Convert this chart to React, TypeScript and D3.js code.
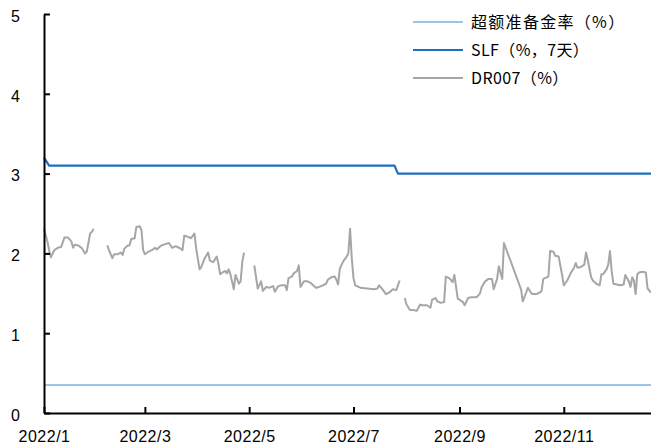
import { useEffect, useRef } from 'react';
import * as d3 from 'd3';

// 数据
const xTickLabels = ['2022/1', '2022/3', '2022/5', '2022/7', '2022/9', '2022/11'];
const yTickValues = [0, 1, 2, 3, 4, 5];

const seriesNames = ['超额准备金率（%）', 'SLF（%，7天）', 'DR007（%）'];
const seriesColors = ['#9DC3E6', '#1F6FBF', '#A6A6A6'];

const reserveDates = ['1/1', '12/22'];
const reserveValues = [0.35, 0.35];

const slfDates = ['1/1', '1/4', '7/25', '7/27', '12/22'];
const slfValues = [3.2, 3.1, 3.1, 3.0, 3.0];

const dr007Dates = [
  '1/1', '1/3', '1/4', '1/5', '1/7', '1/9', '1/11', '1/13', '1/15', '1/17', '1/18', '1/19', '1/21', '1/23', '1/25', '1/26', '1/28', '1/29', '1/30',
  '2/1',
  '2/7', '2/8', '2/10', '2/11', '2/13', '2/15', '2/16', '2/17', '2/19', '2/20', '2/21', '2/23', '2/24', '2/26', '2/27', '2/28',
  '3/1', '3/3', '3/5', '3/7', '3/8', '3/10', '3/12', '3/15', '3/17', '3/19', '3/20', '3/22', '3/23', '3/24', '3/26', '3/28', '3/30', '3/31',
  '4/2', '4/3', '4/5', '4/7', '4/8', '4/10', '4/12', '4/13', '4/14', '4/16', '4/17', '4/18', '4/19', '4/20', '4/22', '4/23', '4/25', '4/26', '4/27', '4/28',
  '4/30',
  '5/4', '5/6', '5/8', '5/9', '5/11', '5/13', '5/15', '5/16', '5/18', '5/20', '5/22', '5/23', '5/24', '5/26', '5/27', '5/29', '5/30', '5/31',
  '6/2', '6/4', '6/6', '6/9', '6/11', '6/13', '6/15', '6/16', '6/18', '6/20', '6/21', '6/22', '6/23', '6/25', '6/27', '6/28', '6/29', '6/30',
  '7/1', '7/2', '7/5', '7/9', '7/13', '7/15', '7/16', '7/18', '7/20', '7/22', '7/24', '7/26', '7/27', '7/28',
  '7/29',
  '7/31', '8/1', '8/3', '8/5', '8/7', '8/9', '8/10', '8/13', '8/15', '8/16', '8/18', '8/19', '8/21', '8/23', '8/24', '8/26', '8/28', '8/29', '8/31',
  '9/1', '9/3', '9/4', '9/6', '9/8', '9/11', '9/13', '9/14', '9/16', '9/18', '9/20', '9/21', '9/23', '9/24', '9/26', '9/27',
  '10/7', '10/8', '10/10', '10/11', '10/13', '10/14', '10/16', '10/18', '10/19', '10/20', '10/22', '10/23', '10/24', '10/26', '10/27', '10/29', '10/31',
  '11/1', '11/3', '11/5', '11/7', '11/8', '11/9', '11/11', '11/13', '11/14', '11/15', '11/17', '11/18', '11/20', '11/22', '11/23', '11/24', '11/26', '11/27', '11/28', '11/29', '11/30',
  '12/2', '12/4', '12/6', '12/7', '12/9', '12/10', '12/11', '12/12', '12/13', '12/14', '12/15', '12/17', '12/19', '12/20', '12/22',
];
const dr007Values: (number | null)[] = [
  2.31, 2.15, 2.04, 1.95, 2.04, 2.07, 2.08, 2.2, 2.2, 2.15, 2.07, 2.11, 2.1, 2.07, 2.0, 2.02, 2.25, 2.27, 2.31,
  null,
  2.1, 2.04, 1.94, 1.99, 1.99, 2.01, 1.98, 2.06, 2.1, 2.1, 2.18, 2.19, 2.33, 2.34, 2.29, 2.04,
  1.99, 2.02, 2.04, 2.07, 2.05, 2.09, 2.11, 2.13, 2.07, 2.09, 2.08, 2.06, 2.04, 2.22, 2.21, 2.19, 2.25, 2.06,
  1.8, 1.83, 1.94, 2.01, 1.91, 1.89, 1.96, 1.87, 1.74, 1.77, 1.78, 1.75, 1.8, 1.74, 1.55, 1.73, 1.62, 1.65, 1.9, 2.01,
  null,
  1.85, 1.56, 1.65, 1.53, 1.58, 1.57, 1.59, 1.52, 1.59, 1.6, 1.6, 1.54, 1.69, 1.71, 1.75, 1.78, 1.85, 1.58,
  1.65, 1.65, 1.63, 1.57, 1.58, 1.6, 1.62, 1.67, 1.7, 1.71, 1.67, 1.61, 1.81, 1.9, 1.96, 2.0, 2.31, 1.94,
  1.69, 1.6, 1.57, 1.56, 1.55, 1.56, 1.6, 1.55, 1.49, 1.51, 1.55, 1.54, 1.6, 1.66,
  null,
  1.44, 1.36, 1.29, 1.29, 1.28, 1.36, 1.35, 1.35, 1.32, 1.42, 1.44, 1.4, 1.38, 1.39, 1.71, 1.69, 1.64, 1.73, 1.43,
  1.42, 1.39, 1.35, 1.44, 1.45, 1.45, 1.5, 1.58, 1.65, 1.68, 1.68, 1.55, 1.68, 1.84, 1.68, 2.13,
  1.55, 1.4, 1.51, 1.57, 1.5, 1.49, 1.49, 1.51, 1.53, 1.68, 1.7, 1.71, 2.03, 2.02, 1.97, 1.96, 1.73,
  1.6, 1.66, 1.75, 1.82, 1.88, 1.82, 1.83, 1.86, 2.01, 1.92, 1.7, 1.66, 1.62, 1.6, 1.74, 1.74, 1.8, 1.86, 2.03, 1.78, 1.62,
  1.61, 1.6, 1.61, 1.73, 1.65, 1.58, 1.7, 1.66, 1.49, 1.74, 1.76, 1.77, 1.76, 1.56, 1.51,
];

const parseDay = d3.timeParse('%Y/%m/%d');
const toDate = (s: string) => parseDay('2022/' + s)!;

type Pt = { date: Date; value: number | null };
const zip = (ds: string[], vs: (number | null)[]): Pt[] =>
  ds.map((d, i) => ({ date: toDate(d), value: vs[i] }));

const App = () => {
  const svgRef = useRef<SVGSVGElement>(null);

  useEffect(() => {
    document.body.style.margin = '0';
    const svg = d3.select(svgRef.current);
    svg.selectAll('*').remove();

    const width = 651;
    const height = 448;
    const margin = { top: 14, right: 0, bottom: 35, left: 44 };
    const axisFont = '"Liberation Sans", Arial, sans-serif';

    const x = d3
      .scaleTime()
      .domain([toDate('1/1'), toDate('12/22')])
      .range([margin.left, width - margin.right]);

    const y = d3
      .scaleLinear()
      .domain([0, 5])
      .range([height - margin.bottom, margin.top]);

    const line = d3
      .line<Pt>()
      .defined((d) => d.value !== null)
      .x((d) => x(d.date))
      .y((d) => y(d.value as number));

    // 三条线
    const series = [
      zip(reserveDates, reserveValues),
      zip(slfDates, slfValues),
      zip(dr007Dates, dr007Values),
    ];
    const widths = [2, 2.2, 2];
    series.forEach((data, i) => {
      svg
        .append('path')
        .datum(data)
        .attr('fill', 'none')
        .attr('stroke', seriesColors[i])
        .attr('stroke-width', widths[i])
        .attr('stroke-linejoin', 'round')
        .attr('d', line);
    });

    // Y 轴
    const yAxis = d3
      .axisLeft(y)
      .tickValues(yTickValues)
      .tickSize(-6)
      .tickSizeOuter(0)
      .tickPadding(24)
      .tickFormat(d3.format('d'));
    const gy = svg
      .append('g')
      .attr('transform', `translate(${margin.left},0)`)
      .call(yAxis);
    gy.select('.domain').attr('stroke', '#000').attr('stroke-width', 2);
    gy.selectAll('.tick line').attr('stroke', '#000').attr('stroke-width', 2);
    gy.selectAll('.tick text')
      .attr('fill', '#000')
      .style('font-size', '16px')
      .style('font-family', axisFont)
      .attr('dy', '0.45em');

    // X 轴
    const xAxis = d3
      .axisBottom(x)
      .tickValues(xTickLabels.map((s) => toDate(s.replace('2022/', '') + '/1')))
      .tickSize(-6)
      .tickSizeOuter(0)
      .tickPadding(18)
      .tickFormat((_, i) => xTickLabels[i]);
    const gx = svg
      .append('g')
      .attr('transform', `translate(0,${height - margin.bottom})`)
      .call(xAxis);
    gx.select('.domain').attr('stroke', '#000').attr('stroke-width', 2);
    gx.selectAll('.tick line').attr('stroke', '#000').attr('stroke-width', 2);
    gx.selectAll('.tick text')
      .attr('fill', '#000')
      .style('font-size', '16px')
      .style('font-family', axisFont)
      .style('letter-spacing', '0.5px');

    // 图例
    const legend = svg.append('g').attr('transform', 'translate(413,22)');
    seriesNames.forEach((name, i) => {
      const g = legend.append('g').attr('transform', `translate(0,${i * 28})`);
      g.append('line')
        .attr('x1', 0)
        .attr('x2', 50)
        .attr('stroke', seriesColors[i])
        .attr('stroke-width', 2);
      g.append('text')
        .attr('x', 58)
        .attr('dy', '0.35em')
        .attr('fill', '#000')
        .style('font-size', '16px')
        .style('font-family', '"Noto Sans CJK SC", sans-serif')
        .style('letter-spacing', i === 0 ? '1.3px' : '0.4px')
        .text(name);
    });
  }, []);

  return <svg ref={svgRef} width={651} height={448} style={{ display: 'block' }}></svg>;
};

export default App;
